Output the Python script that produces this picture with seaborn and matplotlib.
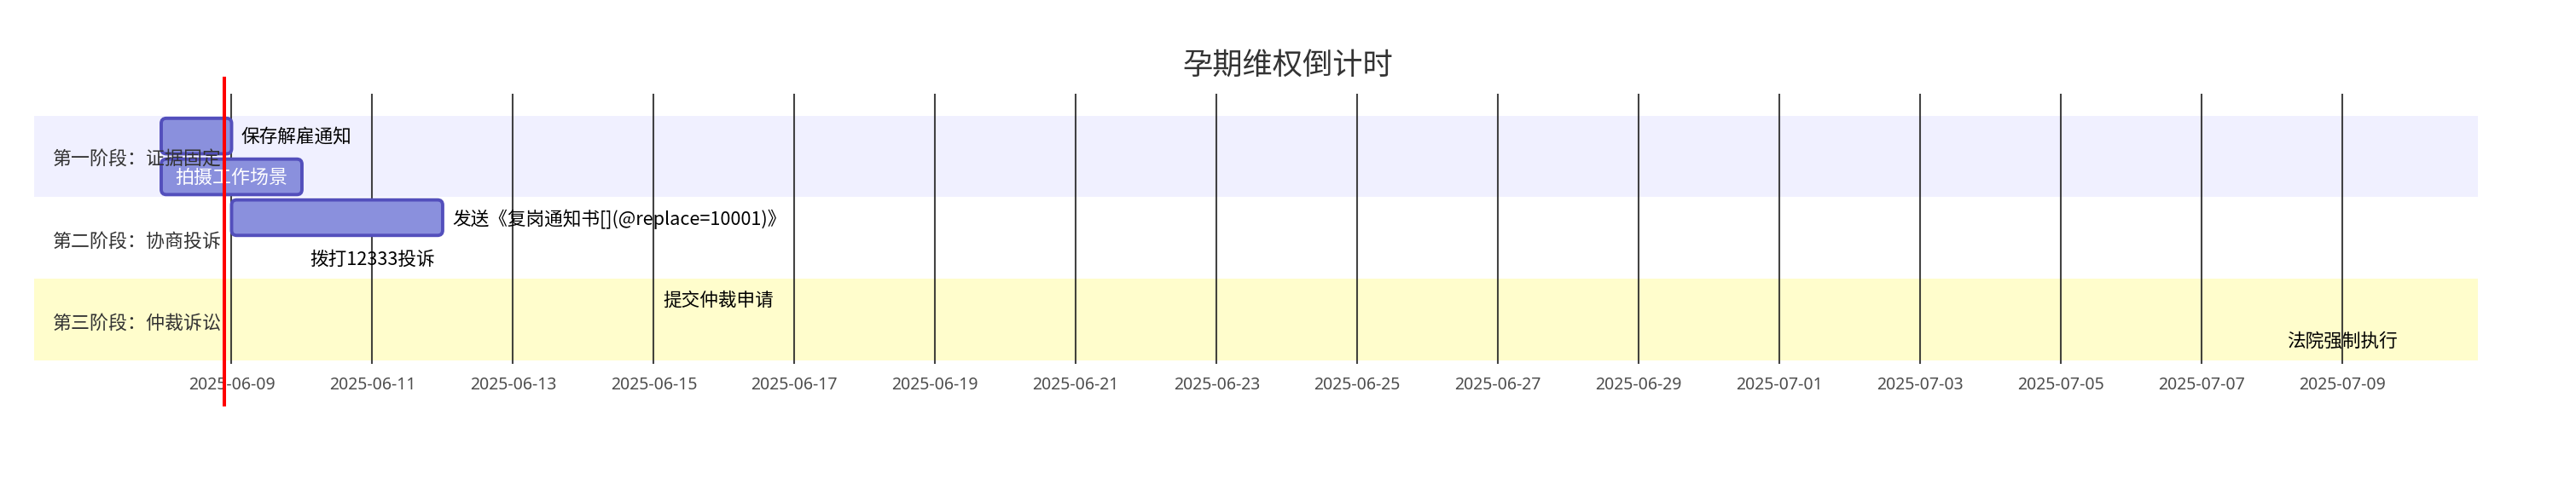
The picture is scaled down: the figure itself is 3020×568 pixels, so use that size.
import matplotlib
matplotlib.use("Agg")
import matplotlib.pyplot as plt
import matplotlib.dates as mdates
from matplotlib.patches import FancyBboxPatch
import pandas as pd
import seaborn as sns

# ---------------- data ----------------
title = "孕期维权倒计时"
sections = ["第一阶段：证据固定", "第二阶段：协商投诉", "第三阶段：仲裁诉讼"]
task_section = [0, 0, 1, 1, 2, 2]
tasks = ["保存解雇通知", "拍摄工作场景", "发送《复岗通知书[](@replace=10001)》",
         "拨打12333投诉", "提交仲裁申请", "法院强制执行"]
starts = ["2025-06-08", "2025-06-08", "2025-06-09", "2025-06-11", "2025-06-15", "2025-07-09"]
ends = ["2025-06-09", "2025-06-10", "2025-06-12", "2025-06-11", "2025-06-15", "2025-07-09"]
label_modes = ["right", "inside", "right", "center", "right", "center"]
today = "2025-06-08 21:40"
tick_labels = ["2025-06-09", "2025-06-11", "2025-06-13", "2025-06-15", "2025-06-17",
               "2025-06-19", "2025-06-21", "2025-06-23", "2025-06-25", "2025-06-27",
               "2025-06-29", "2025-07-01", "2025-07-03", "2025-07-05", "2025-07-07",
               "2025-07-09"]

# ---------------- style ----------------
sns.set_theme(style="white")
plt.rcParams["font.family"] = ["Noto Sans CJK SC", "DejaVu Sans"]

W, H = 3020, 568
fig = plt.figure(figsize=(W / 100, H / 100), dpi=100)
ax = fig.add_axes([40 / W, 1 - 423 / H, (2905 - 40) / W, (423 - 135.7) / H])

s = mdates.date2num(pd.to_datetime(starts))
e = mdates.date2num(pd.to_datetime(ends))
rows = list(range(len(tasks)))

band_colors = ["#F0F0FF", "#FFFFFF", "#FFFDCC"]
for i, sec in enumerate(sections):
    rr = [r for r, t in zip(rows, task_section) if t == i]
    ax.axhspan(min(rr) - 0.5, max(rr) + 0.5, color=band_colors[i], zorder=0, lw=0)
    ax.annotate(sec, xy=(0, (min(rr) + max(rr)) / 2), xycoords=("axes fraction", "data"),
                xytext=(15, -3), textcoords="offset points", va="center", ha="left",
                fontsize=15.8, color="#333333", zorder=4)

bars = ax.barh(rows, e - s, left=s, height=0.87, color="#8A90DD",
               edgecolor="#534FBC", linewidth=2.8, zorder=2)
px_per_day = 82.48
for rect in bars.patches:
    w = rect.get_width()
    rect.set_visible(False)
    if w <= 0:
        continue
    r = 6 / px_per_day
    fb = FancyBboxPatch((rect.get_x(), rect.get_y()), w, rect.get_height(),
                        boxstyle=f"round,pad=0,rounding_size={r}",
                        mutation_aspect=(6 / 47.9) / r,
                        facecolor="#8A90DD", edgecolor="#534FBC", linewidth=2.8, zorder=2)
    ax.add_patch(fb)

for r, lab, mode, a, b in zip(rows, tasks, label_modes, s, e):
    if mode == "right":
        ax.annotate(lab, xy=(b, r), xytext=(8, -1), textcoords="offset points",
                    ha="left", va="center", fontsize=15.6, color="black", zorder=4)
    elif mode == "inside":
        ax.annotate(lab, xy=((a + b) / 2, r), xytext=(0, -1), textcoords="offset points",
                    ha="center", va="center", fontsize=15.8, color="white", zorder=4)
    else:
        ax.annotate(lab, xy=(a, r), xytext=(0, -1), textcoords="offset points",
                    ha="center", va="center", fontsize=15.6, color="black", zorder=4)

tick_nums = mdates.date2num(pd.to_datetime(tick_labels))
ax.vlines(tick_nums, -0.014, 1.09, transform=ax.get_xaxis_transform(),
          colors="#222222", alpha=0.85, lw=1.5, clip_on=False, zorder=1)

today_num = mdates.date2num(pd.to_datetime(today))
ax.vlines([today_num], -0.188, 1.16, transform=ax.get_xaxis_transform(),
          colors="red", lw=2.9, clip_on=False, zorder=6)

ax.set_xlim(s.min() - 149 / px_per_day, e.max() + 159 / px_per_day)
ax.set_ylim(len(tasks) - 0.5, -0.5)
ax.set_xticks(tick_nums)
ax.set_xticklabels(tick_labels, fontfamily="Noto Sans", fontsize=14, color="#4d4d4d")
ax.tick_params(axis="x", length=0, pad=14)
ax.set_yticks([])
for sp in ax.spines.values():
    sp.set_visible(False)
ax.set_facecolor("none")

fig.text(0.5, 1 - 77 / H, title, ha="center", va="center", fontsize=25.4, color="#333333")

fig.savefig("out.png", dpi=100)
